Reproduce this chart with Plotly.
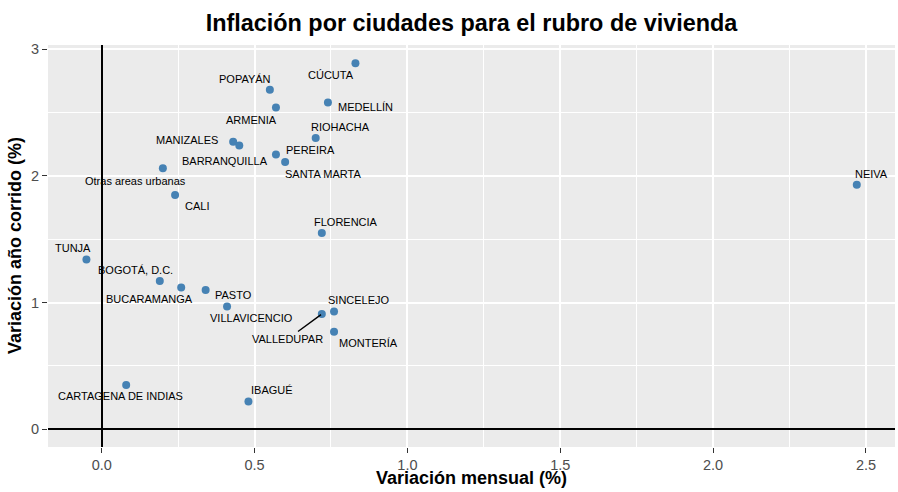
import plotly.graph_objects as go

# ---- data ----
ciudades = ["CÚCUTA", "POPAYÁN", "MEDELLÍN", "ARMENIA", "RIOHACHA", "MANIZALES",
            "BARRANQUILLA", "PEREIRA", "SANTA MARTA", "Otras areas urbanas", "CALI",
            "FLORENCIA", "NEIVA", "TUNJA", "BOGOTÁ, D.C.", "BUCARAMANGA", "PASTO",
            "VILLAVICENCIO", "SINCELEJO", "VALLEDUPAR", "MONTERÍA",
            "CARTAGENA DE INDIAS", "IBAGUÉ"]
var_mensual = [0.83, 0.55, 0.74, 0.57, 0.70, 0.43, 0.45, 0.57, 0.60, 0.20, 0.24,
               0.72, 2.47, -0.05, 0.19, 0.26, 0.34, 0.41, 0.76, 0.72, 0.76, 0.08, 0.48]
var_anual = [2.89, 2.68, 2.58, 2.54, 2.30, 2.27, 2.24, 2.17, 2.11, 2.06, 1.85,
             1.55, 1.93, 1.34, 1.17, 1.12, 1.10, 0.97, 0.93, 0.91, 0.77, 0.35, 0.22]
x_ticks = [0.0, 0.5, 1.0, 1.5, 2.0, 2.5]
x_tick_labels = ["0.0", "0.5", "1.0", "1.5", "2.0", "2.5"]
y_ticks = [0, 1, 2, 3]
y_tick_labels = ["0", "1", "2", "3"]

# ---- label placement (pixel offsets: dx right, dy down) ----
label_offsets = [(-24, 11.5), (-24.5, -11), (38, 4.7), (-24, 12.3), (24.4, -11),
                 (-45.7, -1.3), (-13.8, 15), (34.3, -4.6), (37.5, 12), (-27, 13),
                 (21.6, 11), (24, -10.7), (15, -10.7), (-13.7, -11.6), (-24, -10.7),
                 (-31.7, 12), (27.5, 5), (24, 11.7), (24.5, -11.3), (-34, 25),
                 (34.8, 11.7), (-6, 11), (24, -11)]
arrow_labels = {"VALLEDUPAR"}

FONT = "Liberation Sans, Arial, Helvetica, sans-serif"

fig = go.Figure()
fig.add_trace(go.Scatter(
    x=var_mensual, y=var_anual, mode="markers",
    marker=dict(color="#4682B4", size=8, line=dict(width=0)),
    hoverinfo="text", text=ciudades, showlegend=False,
))

annotations = []
for name, xv, yv, (dx, dy) in zip(ciudades, var_mensual, var_anual, label_offsets):
    if name in arrow_labels:
        annotations.append(dict(
            x=xv, y=yv, xref="x", yref="y", text=name, showarrow=True,
            ax=dx, ay=dy, arrowhead=0, arrowwidth=1.4, arrowcolor="black",
            standoff=1, font=dict(family=FONT, size=11, color="black"),
        ))
    else:
        annotations.append(dict(
            x=xv, y=yv, xref="x", yref="y", text=name, showarrow=False,
            xshift=dx, yshift=-dy, xanchor="center", yanchor="middle",
            font=dict(family=FONT, size=11, color="black"),
        ))

annotations.append(dict(
    text="<b>Variación mensual (%)</b>", xref="paper", yref="paper", x=0.5, y=0,
    xanchor="center", yanchor="middle", yshift=-31, showarrow=False,
    font=dict(family=FONT, size=18, color="black"),
))
annotations.append(dict(
    text="<b>Variación año corrido (%)</b>", xref="paper", yref="paper", x=0, y=0.5,
    xanchor="center", yanchor="middle", xshift=-33, textangle=-90, showarrow=False,
    font=dict(family=FONT, size=18, color="black"),
))

axis_common = dict(
    showgrid=True, gridcolor="white", gridwidth=1.6,
    zeroline=True, zerolinecolor="black", zerolinewidth=1.8,
    ticks="outside", ticklen=5, tickwidth=1.1, tickcolor="#333333",
    tickfont=dict(family=FONT, size=14.5, color="#4d4d4d"),
    showline=False,
)

fig.update_layout(
    width=898, height=492,
    margin=dict(l=48, r=3, t=45, b=45),
    paper_bgcolor="white", plot_bgcolor="#EBEBEB",
    title=dict(text="<b>Inflación por ciudades para el rubro de vivienda</b>",
               x=0.5, xref="paper", xanchor="center",
               y=1 - 23 / 492, yref="container", yanchor="middle",
               font=dict(family=FONT, size=23.4, color="black")),
    xaxis=dict(range=[-0.1757, 2.595], tickvals=x_ticks, ticktext=x_tick_labels,
               minor=dict(dtick=0.25, tick0=0, showgrid=True, gridcolor="white",
                          gridwidth=0.8, ticks=""),
               **axis_common),
    yaxis=dict(range=[-0.140, 3.034], tickvals=y_ticks, ticktext=y_tick_labels,
               minor=dict(dtick=0.5, tick0=0, showgrid=True, gridcolor="white",
                          gridwidth=0.8, ticks=""),
               **axis_common),
    annotations=annotations,
    hovermode="closest",
)

fig.write_html(
    "out.html",
    config={"displayModeBar": False},
    post_script="document.body.style.margin='0';document.body.style.padding='0';",
)
